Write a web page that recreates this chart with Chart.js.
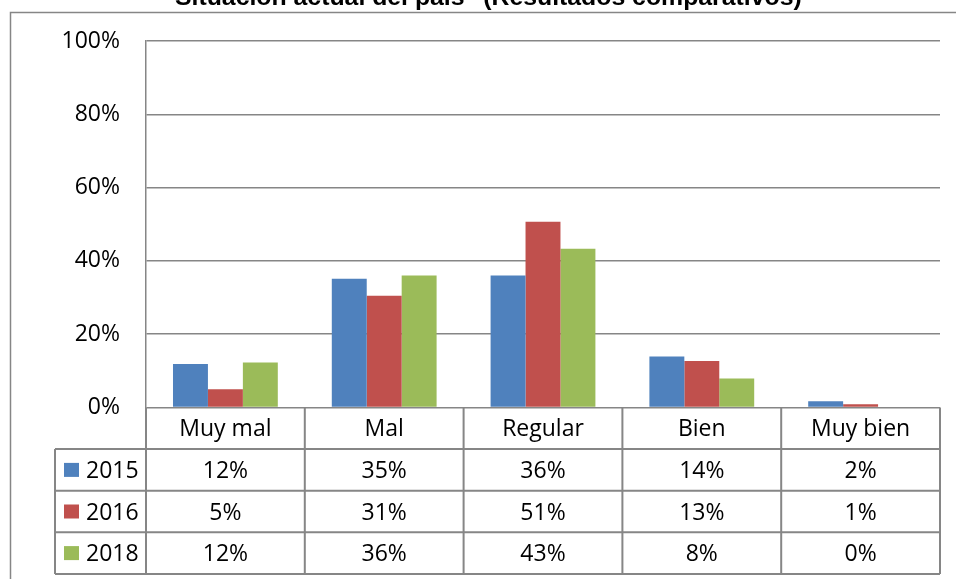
<!DOCTYPE html>
<html>
<head>
<meta charset="utf-8">
<script src="https://cdn.jsdelivr.net/npm/chart.js@4"></script>
<style>
  body { margin: 0; background: #fff; }
  canvas { display: block; }
</style>
</head>
<body>
<canvas id="chart" width="956" height="579"></canvas>
<script>
const categories = ['Muy mal', 'Mal', 'Regular', 'Bien', 'Muy bien'];
const seriesNames = ['2015', '2016', '2018'];
const values2015 = [11.9, 35.1, 36.0, 13.9, 1.7];
const values2016 = [5.0, 30.5, 50.7, 12.7, 0.9];
const values2018 = [12.3, 36.0, 43.3, 7.9, 0.0];
const colors = ['#4F81BD', '#C0504D', '#9BBB59'];
const yTicks = [0, 20, 40, 60, 80, 100];
const titleText = 'Situación actual del país" (Resultados comparativos)';

const lineColor = '#868686';
const font = '"Open Sans", sans-serif';

// table under the plot, drawn from the same scale and data
const tablePlugin = {
  id: 'dataTable',
  afterDraw: (chart) => {
    const ctx = chart.ctx;
    const x = chart.scales.x;
    const area = chart.chartArea;
    const half = (x.getPixelForValue(1) - x.getPixelForValue(0)) / 2;
    const bounds = [];
    for (let i = 0; i < categories.length; i++) bounds.push(x.getPixelForValue(i) - half);
    bounds.push(x.getPixelForValue(categories.length - 1) + half);
    const rowH = 41.6;
    const top = area.bottom;
    const legLeft = 55;
    const bottom = top + rowH * (seriesNames.length + 1);

    ctx.save();
    // outer chart border (only left and top fall inside the picture)
    ctx.strokeStyle = lineColor;
    ctx.lineWidth = 1.5;
    ctx.strokeRect(10.5, 12.5, 1200, 1200);

    // title, cut off at the top
    ctx.fillStyle = '#000';
    ctx.font = 'bold 22px "Liberation Sans", Arial, sans-serif';
    let w = ctx.measureText(titleText).width;
    const size = 22 * 627 / w;
    ctx.font = 'bold ' + size + 'px "Liberation Sans", Arial, sans-serif';
    ctx.textAlign = 'left';
    ctx.textBaseline = 'alphabetic';
    ctx.fillText(titleText, 175, 5);

    // grid of the table
    ctx.lineWidth = 2;
    ctx.beginPath();
    bounds.forEach((bx) => { ctx.moveTo(bx, top); ctx.lineTo(bx, bottom); });
    ctx.moveTo(legLeft, top + rowH); ctx.lineTo(legLeft, bottom);
    for (let r = 1; r <= seriesNames.length + 1; r++) {
      ctx.moveTo(legLeft, top + rowH * r);
      ctx.lineTo(bounds[bounds.length - 1], top + rowH * r);
    }
    ctx.stroke();

    ctx.font = '23px ' + font;
    ctx.fillStyle = '#000';
    ctx.textAlign = 'center';
    ctx.textBaseline = 'alphabetic';
    categories.forEach((c, i) => {
      ctx.fillText(c, x.getPixelForValue(i), top + rowH / 2 + 8);
    });
    chart.data.datasets.forEach((ds, s) => {
      const cy = top + rowH * (s + 1) + rowH / 2;
      ctx.fillStyle = ds.backgroundColor;
      ctx.fillRect(64, cy - 7, 15, 14);
      ctx.fillStyle = '#000';
      ctx.textAlign = 'left';
      ctx.fillText(ds.label, 86, cy + 8);
      ctx.textAlign = 'center';
      ds.data.forEach((v, i) => {
        ctx.fillText(Math.round(v) + '%', x.getPixelForValue(i), cy + 8);
      });
    });
    ctx.restore();
  }
};

const datasets = [values2015, values2016, values2018].map((vals, i) => ({
  label: seriesNames[i],
  data: vals,
  backgroundColor: colors[i],
  borderWidth: 0,
  categoryPercentage: 0.66,
  barPercentage: 1.0
}));

new Chart(document.getElementById('chart'), {
  type: 'bar',
  data: { labels: categories, datasets: datasets },
  options: {
    responsive: false,
    animation: false,
    layout: { padding: { left: 0, right: 16, top: 41, bottom: 171.5 } },
    plugins: { legend: { display: false }, tooltip: { enabled: false } },
    scales: {
      x: { display: false },
      y: {
        min: 0,
        max: 100,
        afterFit: (scale) => { scale.width = 146; },
        afterBuildTicks: (scale) => { scale.ticks = yTicks.map((v) => ({ value: v })); },
        ticks: {
          padding: 26,
          color: '#000',
          font: { family: 'Open Sans', size: 23 },
          callback: (v) => v + '%'
        },
        grid: { color: lineColor, lineWidth: 1.5, drawTicks: false },
        border: { color: lineColor, width: 1.5 }
      }
    }
  },
  plugins: [tablePlugin]
});
</script>
</body>
</html>
